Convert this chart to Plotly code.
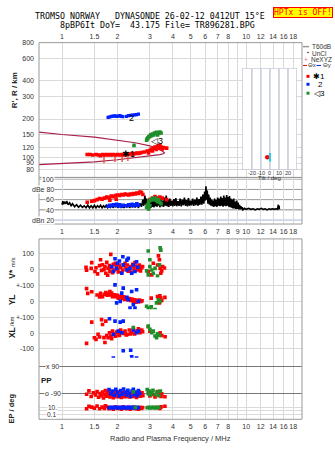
import math
import plotly.graph_objects as go

W, H = 335, 451

# ---------------- axes / tick data ----------------
freq_grid = [1, 1.5, 2, 3, 4, 5, 6, 7, 8, 9, 10, 12, 14, 16, 18]
freq_top_labels = ["1", "1.5", "2", "3", "4", "5", "6", "7", "8", "", "10", "12", "14", "16", "18"]
freq_mid_labels = ["1", "1.5", "2", "3", "4", "5", "6", "7", "8", "9", "10", "12", "14", "16", "18"]
freq_bot_labels = ["1", "1.5", "2", "3", "4", "5", "6", "7", "8", "", "10", "12", "14", "16", "18"]
height_ticks = [80, 90, 100, 120, 150, 200, 300, 400, 600, 800]
tilt_ticks = [-20, -10, 0, 10, 20]

# ---------------- height panel ----------------
model_f = [0.75, 1.0, 1.5, 2.0, 2.5, 3.0, 3.3, 3.5, 3.6, 3.55, 3.4, 3.0, 2.5, 2.0, 1.5, 1.0, 0.75]
model_h = [158, 151, 144, 137, 130, 123, 117, 112, 108.5, 106.5, 105, 102.5, 99, 95.5, 92, 89, 87.5]

nexyz = [(1.69, 95.5), (1.94, 97.5), (2.12, 97.5), (2.28, 99.5)]

h_red = [(1.37, 105), (1.42, 105), (1.47, 104), (1.53, 105), (1.58, 104), (1.62, 103), (1.66, 105),
         (1.70, 104), (1.74, 105), (1.78, 104), (1.82, 105), (1.86, 104), (1.90, 105), (1.95, 104),
         (2.00, 105), (2.05, 104), (2.10, 105), (2.15, 104), (2.20, 105), (2.25, 106), (2.30, 105),
         (2.35, 106), (2.40, 107), (2.45, 106), (2.50, 107), (2.55, 108), (2.60, 107), (2.65, 108),
         (2.70, 109), (2.80, 110), (2.90, 112), (2.95, 108), (3.00, 113), (3.05, 116), (3.10, 112),
         (3.15, 118), (3.20, 120), (3.25, 115), (3.30, 122), (3.35, 118), (3.40, 124), (3.45, 120),
         (3.50, 116), (3.55, 119), (3.70, 118)]
h_blue = [(1.78, 206), (1.82, 208), (1.86, 210), (1.90, 211), (1.94, 212), (1.98, 210), (2.02, 211),
          (2.06, 213), (2.10, 210), (2.14, 209), (2.24, 210), (2.30, 213), (2.36, 214), (2.42, 215),
          (2.48, 216), (2.54, 217), (2.60, 219)]
h_green = [(2.46, 124), (2.88, 136), (2.90, 140), (2.93, 142), (2.96, 145), (3.00, 146), (3.03, 150),
           (3.06, 148), (3.10, 152), (3.14, 150), (3.18, 155), (3.22, 153), (3.26, 157), (3.30, 150),
           (3.35, 154), (3.40, 158), (3.45, 155)]

tilt_red = [(-3, 100)]
tilt_blue = [(0, 100)]
tilt_box = [80, 501]

# ---------------- amplitude panel ----------------
amp_f = [1.00, 1.01, 1.02, 1.03, 1.05, 1.06, 1.08, 1.10, 1.12, 1.14, 1.17, 1.20, 1.23, 1.26, 1.29, 1.32,
         1.35, 1.38, 1.41, 1.44, 1.47, 1.50, 1.53, 1.56, 1.59, 1.62, 1.65, 1.68, 1.71, 1.74, 1.77, 1.80,
         1.83, 1.86, 1.89, 1.92, 1.95, 1.98, 2.01, 2.05, 2.09, 2.13, 2.17, 2.21, 2.25, 2.29, 2.33, 2.37,
         2.41, 2.45, 2.50, 2.55, 2.60, 2.65, 2.70, 2.75, 2.78, 2.82, 2.85, 2.88, 2.92, 2.95, 2.98, 3.01,
         3.04, 3.07, 3.10, 3.13, 3.16, 3.19, 3.22, 3.25, 3.28, 3.31, 3.34, 3.37, 3.40, 3.44, 3.48, 3.52,
         3.56, 3.60, 3.64, 3.68, 3.72, 3.76, 3.80, 3.85, 3.90, 3.95, 4.00, 4.05, 4.10, 4.15, 4.20, 4.26,
         4.32, 4.38, 4.44, 4.50, 4.56, 4.62, 4.68, 4.74, 4.80, 4.86, 4.92, 4.98, 5.05, 5.12, 5.19, 5.26,
         5.33, 5.40, 5.47, 5.54, 5.61, 5.68, 5.75, 5.82, 5.89, 5.95, 6.00, 6.05, 6.10, 6.15, 6.20, 6.26,
         6.32, 6.38, 6.44, 6.50, 6.56, 6.62, 6.68, 6.74, 6.80, 6.86, 6.93, 7.00, 7.07, 7.14, 7.21, 7.28,
         7.35, 7.42, 7.49, 7.56, 7.63, 7.70, 7.77, 7.84, 7.91, 7.98, 8.05, 8.12, 8.19, 8.26, 8.33, 8.40,
         8.48, 8.56, 8.64, 8.72, 8.80, 8.88, 8.96, 9.04, 9.12, 9.20, 9.28, 9.36, 9.44, 9.52, 9.60, 9.80,
         10.0, 10.3, 10.6, 10.9, 11.2, 11.5, 11.8, 12.1, 12.4, 12.7, 13.0, 13.3, 13.6, 13.9, 14.2, 14.5,
         14.8, 14.95, 15.05, 15.1, 15.15]
amp_db = [50, 57, 51, 56, 52, 57, 50, 54, 48, 52, 46, 50, 45, 49, 45, 48,
          44, 49, 44, 48, 44, 49, 44, 48, 45, 49, 44, 48, 45, 49, 44, 48,
          45, 50, 44, 49, 45, 51, 44, 49, 45, 50, 44, 49, 45, 51, 44, 50,
          45, 52, 45, 50, 44, 53, 46, 60, 48, 68, 50, 62, 42, 55, 40, 58,
          44, 60, 46, 57, 45, 61, 47, 59, 46, 66, 48, 60, 45, 63, 47, 58,
          46, 64, 48, 68, 47, 60, 46, 62, 48, 58, 47, 61, 48, 63, 47, 57,
          48, 62, 47, 60, 49, 64, 48, 59, 47, 63, 48, 58, 49, 62, 48, 60,
          49, 64, 48, 61, 50, 66, 50, 70, 52, 76, 58, 86, 60, 78, 52, 70,
          50, 64, 48, 60, 47, 58, 46, 62, 47, 59, 46, 64, 48, 62, 47, 66,
          48, 63, 46, 68, 48, 64, 47, 69, 48, 65, 46, 67, 45, 62, 44, 60,
          43, 62, 43, 56, 42, 58, 42, 54, 41, 50, 41, 47, 41, 45, 40, 43,
          41, 43, 41, 42, 40, 42, 41, 43, 41, 42, 40, 42, 41, 42, 41, 42,
          41, 50, 42, 48, 41]

amp_red = [(1.37, 55), (1.45, 57), (1.50, 58), (1.55, 60), (1.60, 62), (1.65, 61), (1.70, 63), (1.75, 65),
           (1.80, 64), (1.82, 59), (1.85, 67), (1.90, 66), (1.95, 68), (1.97, 61), (2.00, 69), (2.05, 68),
           (2.10, 70), (2.15, 69), (2.20, 71), (2.25, 70), (2.30, 69), (2.35, 71), (2.40, 70), (2.45, 72),
           (2.50, 71), (2.55, 73), (2.60, 72), (2.65, 75), (2.70, 74), (2.75, 70), (3.00, 60), (3.10, 63),
           (3.20, 66), (3.30, 62), (3.40, 65), (3.50, 63), (3.70, 60)]
amp_blue = [(1.78, 47), (1.82, 49), (1.86, 48), (1.90, 50), (1.94, 49), (1.98, 51), (2.02, 48), (2.06, 50),
            (2.10, 47), (2.15, 49), (2.25, 48), (2.30, 50), (2.35, 49), (2.40, 51), (2.45, 48), (2.50, 50),
            (2.55, 52), (2.60, 49)]
amp_green = [(2.88, 45), (2.92, 50), (2.95, 55), (3.00, 58), (3.05, 60), (3.10, 62), (3.15, 60), (3.20, 63),
             (3.25, 59), (3.30, 56), (3.35, 60), (3.40, 55), (3.45, 52), (3.00, 48), (2.95, 42)]

# ---------------- drift panel ----------------
vstar_red = [(1.35, 14), (1.36, -4), (1.44, 8), (1.45, 44), (1.51, -12), (1.53, 12), (1.56, -27), (1.60, 25),
             (1.62, 62), (1.64, -5), (1.66, 31), (1.69, 0), (1.71, 19), (1.73, -23), (1.75, 46), (1.77, -35),
             (1.78, 8), (1.81, 25), (1.82, -12), (1.84, 96), (1.86, 12), (1.88, -20), (1.90, 33), (1.92, -2),
             (1.95, 40), (1.97, 19), (2.00, 4), (2.02, -15), (2.05, 29), (2.08, 12), (2.11, -18), (2.14, -2),
             (2.17, 25), (2.20, 40), (2.23, 8), (2.26, 29), (2.29, -10), (2.32, 4), (2.36, 19), (2.39, -15),
             (2.42, 33), (2.46, 8), (2.49, 45), (2.52, 23), (2.56, -2), (2.60, 10), (2.63, 29), (2.67, -8),
             (2.71, 12), (2.74, 20), (2.94, -12), (3.07, -33), (3.13, 40), (3.30, 29), (3.34, 87), (3.38, 62),
             (3.41, 8), (3.44, -23), (3.48, -8), (3.52, 20), (3.60, 10)]
vstar_blue = [(1.86, 19), (1.90, -12), (1.94, 69), (1.98, 8), (2.00, 40), (2.05, 54), (2.11, -23), (2.14, 81),
              (2.15, 30), (2.25, -2), (2.25, 60), (2.29, 71), (2.34, 8), (2.39, -23), (2.44, 29), (2.49, -12),
              (2.54, 50), (2.58, 15)]
vstar_green = [(2.88, -8), (2.94, 117), (2.94, -33), (3.00, 19), (3.00, 62), (3.07, -2), (3.13, -23), (3.20, 8),
               (3.30, -40), (3.41, 137), (3.44, 123), (3.38, 30)]

yl_red = [(1.36, 80), (1.38, 50), (1.45, 60), (1.55, 40), (1.60, 28), (1.62, 50), (1.66, 30), (1.70, 45),
          (1.73, 55), (1.76, 38), (1.78, 44), (1.80, 48), (1.82, 62), (1.83, 40), (1.86, 52), (1.88, 30),
          (1.90, 35), (1.93, 42), (1.96, 30), (2.00, 38), (2.02, 20), (2.04, 25), (2.08, 32), (2.12, 20),
          (2.16, 28), (2.18, 12), (2.20, 15), (2.24, 22), (2.28, 10), (2.32, 18), (2.36, 5), (2.40, 14),
          (2.44, 0), (2.48, 10), (2.52, -5), (2.56, 6), (2.60, -2), (2.64, 8), (2.68, 0), (2.72, 4),
          (3.05, 20), (3.30, 30), (3.35, 15), (3.38, -10), (3.40, 35), (3.44, 20), (3.48, 5), (3.62, 25)]
yl_blue = [(1.94, 104), (1.98, -10), (2.07, 0), (2.11, 52), (2.15, 83), (2.25, 25), (2.29, 10), (2.39, 62),
           (2.44, -21), (2.49, -42), (2.54, 73), (2.60, 0), (2.34, -42)]
yl_green = [(2.88, -31), (2.94, -52), (3.00, -42), (3.07, -62), (3.13, -73), (3.20, -52), (3.26, -10),
            (3.34, 10), (3.41, 0), (3.05, -35)]

xl_red = [(1.36, -65), (1.45, 69), (1.50, -30), (1.53, -40), (1.57, -8), (1.60, -25), (1.64, 85), (1.66, 54),
          (1.69, -29), (1.71, -60), (1.73, 75), (1.75, -15), (1.78, -30), (1.81, 2), (1.84, -19), (1.86, -35),
          (1.88, 12), (1.92, -8), (1.95, -20), (1.98, 6), (2.02, -10), (2.05, -15), (2.08, 19), (2.12, 5),
          (2.15, -2), (2.20, 12), (2.23, -12), (2.26, -8), (2.32, 19), (2.36, -5), (2.39, 2), (2.44, 23),
          (2.48, -6), (2.52, 6), (2.56, 15), (2.60, 27), (2.65, 2), (2.71, 19), (2.74, 8), (2.94, 40),
          (3.00, 12), (3.34, -8), (3.41, 2), (3.48, -15), (3.63, -23)]
xl_blue = [(1.81, 90), (1.90, -8), (1.94, 75), (2.02, 12), (2.07, 69), (2.11, 2), (2.15, 75), (2.44, 19),
           (2.54, 2), (2.60, 12), (1.90, -158), (2.15, -112), (2.36, -108), (2.39, -150), (2.54, -158)]
xl_green = [(2.44, 35), (2.94, 44), (3.00, 23), (3.07, 2), (3.13, 12), (3.20, -19), (3.26, -29), (3.38, -15),
            (3.30, -5)]

pp_red = [(1.36, -95), (1.40, -72), (1.44, -110), (1.48, -86), (1.52, -100), (1.55, -76), (1.58, -115),
          (1.61, -90), (1.63, -104), (1.66, -80), (1.68, -120), (1.70, -95), (1.72, -70), (1.74, -108),
          (1.76, -88), (1.78, -100), (1.80, -76), (1.82, -114), (1.84, -92), (1.86, -104), (1.88, -82),
          (1.90, -118), (1.92, -96), (1.94, -86), (1.96, -110), (1.98, -98), (2.00, -78), (2.02, -112),
          (2.04, -90), (2.06, -102), (2.08, -84), (2.10, -116), (2.12, -94), (2.14, -106), (2.16, -86),
          (2.18, -112), (2.20, -92), (2.22, -100), (2.24, -80), (2.26, -110), (2.28, -96), (2.30, -88),
          (2.33, -114), (2.36, -94), (2.39, -104), (2.42, -82), (2.45, -110), (2.48, -96), (2.51, -88),
          (2.54, -116), (2.57, -92), (2.60, -100), (2.63, -80), (2.66, -108), (2.69, -94), (2.72, -86),
          (2.75, -104), (2.95, -80), (3.00, -106), (3.10, -96), (3.20, -114), (3.30, -76), (3.35, -100),
          (3.40, -86), (3.45, -110), (3.48, -92), (3.62, -112)]
pp_blue = [(1.80, -64), (1.84, -92), (1.88, -74), (1.92, -102), (1.96, -62), (2.00, -86), (2.04, -106),
           (2.08, -70), (2.12, -94), (2.16, -60), (2.20, -82), (2.24, -100), (2.28, -68), (2.32, -90),
           (2.36, -110), (2.40, -74), (2.44, -62), (2.48, -96), (2.52, -80), (2.56, -104), (2.60, -70),
           (2.64, -90)]
pp_green = [(2.44, -78), (2.90, -64), (2.94, -92), (2.98, -74), (3.02, -100), (3.06, -84), (3.12, -68),
            (3.20, -96), (3.28, -80), (3.36, -104), (3.42, -74)]

ep_red = [(1.36, 4), (1.40, 20), (1.45, 12), (1.50, 6), (1.55, 25), (1.60, 4), (1.65, 12), (1.70, 5),
          (1.72, 30), (1.75, 15), (1.80, 4), (1.85, 9), (1.90, 3), (1.95, 14), (2.00, 5), (2.05, 9),
          (2.10, 3), (2.15, 16), (2.20, 6), (2.25, 4), (2.30, 11), (2.35, 3), (2.40, 7), (2.45, 13),
          (2.50, 4), (2.55, 8), (2.60, 3), (2.65, 11), (2.70, 5), (2.74, 9), (3.30, 9), (3.40, 5),
          (3.45, 14), (3.62, 22)]
ep_blue = [(1.80, 8), (1.84, 10), (1.88, 7), (1.92, 11), (1.96, 8), (2.00, 10), (2.04, 7), (2.08, 11),
           (2.12, 8), (2.16, 10), (2.20, 7), (2.24, 11), (2.28, 8), (2.32, 10), (2.36, 7), (2.40, 11),
           (2.44, 8), (2.48, 10), (2.52, 7), (2.56, 11), (2.60, 8)]
ep_green = [(2.50, 9), (2.90, 8), (2.95, 11), (3.00, 7), (3.05, 10), (3.10, 8), (3.15, 11), (3.20, 7),
            (3.25, 10), (3.30, 8), (3.35, 11)]

# ---------------- styling ----------------
RED, BLUE, GREEN, MAROON, PINK = "#ff0000", "#0022ff", "#1f8f2a", "#a8204a", "#e0709a"
GRID, FRAME, TILT = "#dadada", "#999999", "#a8aec4"
FONT = "Liberation Sans"
MONO = "DejaVu Sans Mono"


def px_x(px):
    return px / W


def px_y(py):
    return 1 - py / H


def yd(top, bottom):
    return [px_y(bottom), px_y(top)]


XD = [px_x(39), px_x(302)]
LOG_F = [math.log10(0.75), math.log10(20.1)]
LOG_H = [math.log10(800) - 136 / 128, math.log10(800)]

fig = go.Figure()


def split(pairs):
    return [p[0] for p in pairs], [p[1] for p in pairs]


def dots(pairs, color, xa, ya, size=3.6, symbol="square"):
    x, y = split(pairs)
    fig.add_trace(go.Scatter(x=x, y=y, mode="markers", xaxis=xa, yaxis=ya, hoverinfo="skip",
                             marker=dict(symbol=symbol, size=size, color=color, line=dict(width=0))))


# height panel
fig.add_trace(go.Scatter(x=model_f, y=model_h, mode="lines", xaxis="x", yaxis="y", hoverinfo="skip",
                         line=dict(color=MAROON, width=1.2)))
nx, ny = split(nexyz)
fig.add_trace(go.Scatter(x=nx, y=ny, mode="markers", xaxis="x", yaxis="y", hoverinfo="skip",
                         marker=dict(symbol="line-ns-open", size=5, line=dict(color=PINK, width=1.5))))
dots(h_red, RED, "x", "y")
dots(h_blue, BLUE, "x", "y", size=3.2)
dots(h_green, GREEN, "x", "y")

# amplitude panel
fig.add_trace(go.Scatter(x=amp_f, y=amp_db, mode="lines", xaxis="x2", yaxis="y2", hoverinfo="skip",
                         line=dict(color="black", width=1.6)))
dots(amp_red, RED, "x2", "y2")
dots(amp_blue, BLUE, "x2", "y2")
dots(amp_green, GREEN, "x2", "y2")

# drift panel rows
for data, ya in [((vstar_red, vstar_blue, vstar_green), "y3"), ((yl_red, yl_blue, yl_green), "y4"),
                 ((xl_red, xl_blue, xl_green), "y5"), ((pp_red, pp_blue, pp_green), "y6"),
                 ((ep_red, ep_blue, ep_green), "y7")]:
    for pairs, col in zip(data, (RED, BLUE, GREEN)):
        dots(pairs, col, "x3", ya)

tick_font = dict(family=FONT, size=7, color="#333")
base_x = dict(type="log", range=LOG_F, domain=XD, tickvals=freq_grid, showgrid=True, gridcolor=GRID,
              gridwidth=1, zeroline=False, showline=False, ticks="", tickfont=tick_font, fixedrange=True,
              tickangle=0)

layout = dict(
    width=W, height=H, margin=dict(l=0, r=0, t=0, b=0), paper_bgcolor="white", plot_bgcolor="white",
    showlegend=False, hovermode=False,
    xaxis=dict(base_x, anchor="y", side="top", ticktext=freq_top_labels, ticklabelstandoff=1),
    yaxis=dict(type="log", range=LOG_H, domain=yd(39, 175), tickvals=height_ticks, anchor="x",
               showgrid=True, gridcolor=GRID, zeroline=False, ticks="", tickfont=tick_font,
               ticklabelstandoff=4),
    xaxis2=dict(base_x, anchor="y2", side="bottom", ticktext=freq_mid_labels, ticklabelstandoff=2),
    yaxis2=dict(range=[12.2, 103.5], domain=yd(175, 222), anchor="x2", showgrid=False, zeroline=False,
                showticklabels=False),
    xaxis3=dict(base_x, anchor="free", position=px_y(419), side="bottom", ticktext=freq_bot_labels,
                ticklabelstandoff=2),
    yaxis3=dict(range=[-50, 193.75], domain=yd(237, 276), anchor="x3", tickvals=[0, 100],
                ticktext=["0", "100"]),
    yaxis4=dict(range=[-50, 150], domain=yd(276, 308), anchor="x3", tickvals=[0, 100],
                ticktext=["0", "+-100"]),
    yaxis5=dict(range=[-156.25, 150], domain=yd(308, 357), anchor="x3", tickvals=[-100, 0, 100],
                ticktext=["-100", "0", "+-100"]),
    yaxis6=dict(range=[-136.7, 150], domain=yd(357, 400), anchor="x3", tickvals=[-90, 90],
                gridcolor="#777777", showticklabels=False),
    yaxis7=dict(type="log", range=[-2.43, 3], domain=yd(400, 419), anchor="x3", tickvals=[0.1, 1, 10],
                showticklabels=False),
    xaxis4=dict(range=[-31, 30], domain=[px_x(242), px_x(297)], anchor="y8", showgrid=False,
                zeroline=False, showticklabels=False, ticks="", fixedrange=True),
    yaxis8=dict(type="log", range=[LOG_H[1] - 128 / 128, LOG_H[1] - 26 / 128], domain=yd(65, 167),
                anchor="x4", showgrid=False, zeroline=False, showticklabels=False, ticks="",
                fixedrange=True),
)
for k in ["yaxis3", "yaxis4", "yaxis5", "yaxis6", "yaxis7"]:
    layout[k].update(zeroline=False, ticks="", tickfont=tick_font, ticklabelstandoff=4, fixedrange=True)
    layout[k].setdefault("gridcolor", GRID)
    layout[k]["showgrid"] = True
fig.update_layout(**layout)

# tilt inset
tx, ty = split(tilt_red)
fig.add_trace(go.Scatter(x=tx, y=ty, mode="markers", xaxis="x4", yaxis="y8", hoverinfo="skip",
                         marker=dict(symbol="circle", size=4.5, color=RED)))
tx, ty = split(tilt_blue)
fig.add_trace(go.Scatter(x=tx, y=ty, mode="markers", xaxis="x4", yaxis="y8", hoverinfo="skip",
                         marker=dict(symbol="line-ns-open", size=6, line=dict(color=BLUE, width=2))))

shapes = []


def prect(x0, y0, x1, y1, line=FRAME, fill=None, layer="above"):
    shapes.append(dict(type="rect", xref="paper", yref="paper", x0=px_x(x0), x1=px_x(x1), y0=px_y(y1),
                       y1=px_y(y0), line=dict(color=line, width=1), fillcolor=fill or "rgba(0,0,0,0)",
                       layer=layer))


def pline(x0, y0, x1, y1, color, width=1):
    shapes.append(dict(type="line", xref="paper", yref="paper", x0=px_x(x0), x1=px_x(x1), y0=px_y(y0),
                       y1=px_y(y1), line=dict(color=color, width=width)))


# inset box (in the inset's own subplot layer, above the height grid), then its tilt grid
shapes.append(dict(type="rect", xref="x4", yref="y8", x0=-31, x1=30, y0=tilt_box[0], y1=tilt_box[1],
                   line=dict(color=TILT, width=1), fillcolor="white", layer="below"))
for t in tilt_ticks:
    shapes.append(dict(type="line", xref="x4", yref="y8", x0=t, x1=t, y0=tilt_box[0], y1=tilt_box[1],
                       line=dict(color=TILT, width=1), layer="below"))

# amplitude reference levels
for lev, col in [(20, "#a9b2dc"), (40, "#8a8a8a"), (60, "#9a9a9a"), (80, "#9a9a9a"), (100, "#b0b0b0")]:
    shapes.append(dict(type="line", xref="paper", yref="y2", x0=XD[0], x1=XD[1], y0=lev, y1=lev,
                       line=dict(color=col, width=1), layer="below"))

prect(39, 39, 302, 175)
prect(39, 175, 302, 222)
prect(39, 237, 302, 419)

# legend swatches
pline(303, 43, 309, 43, "#999999", 1.5)
shapes.append(dict(type="circle", xref="paper", yref="paper", x0=px_x(307.3), x1=px_x(308.7),
                   y0=px_y(49.7), y1=px_y(48.3), fillcolor="black", line=dict(width=0)))
pline(303, 62, 307, 62, RED, 1)
pline(316.5, 62, 321, 62, BLUE, 1)
for yy, col in [(73, RED), (81, BLUE), (90, GREEN)]:
    shapes.append(dict(type="rect", xref="paper", yref="paper", x0=px_x(306.5), x1=px_x(309.5),
                       y0=px_y(yy + 1.5), y1=px_y(yy - 1.5), fillcolor=col, line=dict(width=0)))

annotations = []


def ptext(x, y, text, size=7, anchor="center", color="#222", family=FONT, angle=0, bg=None, **kw):
    d = dict(xref="paper", yref="paper", x=px_x(x), y=px_y(y), text=text, showarrow=False,
             xanchor=anchor, yanchor="middle", textangle=angle,
             font=dict(family=family, size=size, color=color), borderpad=0)
    if bg:
        d["bgcolor"] = bg
    d.update(kw)
    annotations.append(d)


# header
ptext(149.5, 12, "TROMSO NORWAY   DYNASONDE 26-02-12 0412UT 15°E", size=8.3, family=MONO, color="black")
ptext(157, 20.7, "8pBP6It DoY=  43.175 File= TR896281.BPG", size=8.3, family=MONO, color="black")
ptext(302.5, 8.5, "HPTx is OFF!", size=8, family=MONO, color="#ff0000", bg="#ffff00",
      bordercolor="#ff0000", borderwidth=1)

# axis titles
ptext(14, 87, "<b>R', R / km</b>", size=8, angle=-90)
ptext(12, 267, "<b>V*</b> <span style='font-size:6px'>m/s</span>", size=8.5, angle=-90)
ptext(12, 299, "<b>YL</b>", size=8.5, angle=-90)
ptext(12, 320, "/km", size=6, angle=-90)
ptext(12, 332, "<b>XL</b>", size=8.5, angle=-90)
ptext(46, 380, "<b>PP</b>", size=8)
ptext(11, 408, "<b>EP / deg</b>", size=7.5, angle=-90)
ptext(170, 438, "Radio and Plasma Frequency / MHz", size=7.5, color="#333")

# amplitude labels
for y, t in [(177, "100"), (187, "dBe 80"), (197.5, "60"), (208, "40"), (218, "dBn 20")]:
    ptext(55, y, t, anchor="right", bg="white", color="#333")
# phase / polarisation labels
ptext(60, 366, "x 90", anchor="right", bg="white", color="#333")
ptext(62, 393, "o -90", anchor="right", bg="white", color="#333")
ptext(58, 407, "10.", anchor="right", bg="white", color="#333", size=6.5)
ptext(57, 414, "0.1", anchor="right", bg="white", color="#333", size=6.5)

# legend texts
ptext(311, 43, "T60dB", size=6.5, anchor="left", color="#333")
ptext(311, 49.5, "UnCl", size=6.5, anchor="left", color="#333")
ptext(306, 56, "+", size=6.5, color=PINK)
ptext(309.5, 56, "NeXYZ", size=6.5, anchor="left", color="#333")
ptext(307.3, 62, "Θx", size=6, anchor="left", color="#333")
ptext(321.5, 62, "Θy", size=6, anchor="left", color="#333")
ptext(311.5, 73.5, "✱1", size=8, anchor="left", color="black")
ptext(317, 81.5, "2", size=8, anchor="left", color="black")
ptext(313, 90.5, "◁3", size=8, anchor="left", color="black")

# trace labels in the height panel
for f, h, t in [(2.31, 106.5, "✱1"), (2.37, 203, "2"), (3.28, 135, "◁3")]:
    annotations.append(dict(xref="x", yref="y", x=math.log10(f), y=math.log10(h), text=t, showarrow=False,
                            font=dict(family=FONT, size=9, color="black")))

# tilt inset labels
for t in tilt_ticks:
    annotations.append(dict(xref="x4", yref="paper", x=t, y=px_y(171), text=str(t), showarrow=False,
                            font=dict(family=FONT, size=5.5, color="#333"), yanchor="middle"))
annotations.append(dict(xref="x4", yref="paper", x=0, y=px_y(176), text="Tilt / deg", showarrow=False,
                        font=dict(family=FONT, size=6, color="#333"), yanchor="middle"))

fig.update_layout(shapes=shapes, annotations=annotations)
fig.write_html("out.html")
